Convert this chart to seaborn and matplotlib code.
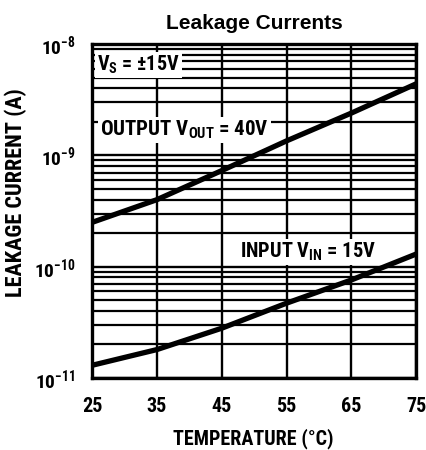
import numpy as np
import pandas as pd
import matplotlib
matplotlib.use('Agg')
import matplotlib.pyplot as plt
import seaborn as sns
from matplotlib.ticker import LogLocator, NullFormatter

# valeurs
temperature = [25, 35, 45, 55, 65, 75]
output_leak = [2.5e-10, 4.0e-10, 7.3e-10, 1.35e-9, 2.4e-9, 4.4e-9]
input_leak = [1.3e-11, 1.8e-11, 2.8e-11, 4.7e-11, 7.6e-11, 1.3e-10]
x_ticks = [25, 35, 45, 55, 65, 75]
y_ticks = [1e-11, 1e-10, 1e-9, 1e-8]

sns.set_style('white')
plt.rcParams['font.family'] = ['Roboto Condensed', 'DejaVu Sans']
plt.rcParams['font.weight'] = 'bold'
plt.rcParams['text.color'] = 'black'
plt.rcParams['axes.labelcolor'] = 'black'
plt.rcParams['xtick.color'] = 'black'
plt.rcParams['ytick.color'] = 'black'
plt.rcParams['mathtext.fontset'] = 'custom'
plt.rcParams['mathtext.rm'] = 'Roboto Condensed:bold'
plt.rcParams['mathtext.bf'] = 'Roboto Condensed:bold'
plt.rcParams['mathtext.default'] = 'rm'

df = pd.DataFrame({
    'temp': temperature * 2,
    'leak': output_leak + input_leak,
    'serie': ['out'] * 6 + ['in'] * 6,
})

fig = plt.figure(figsize=(4.26, 4.5), dpi=100)
ax = fig.add_axes([0.216, 0.16, 0.761, 0.742])

sns.lineplot(data=df, x='temp', y='leak', units='serie', estimator=None,
             color='black', linewidth=3.8, ax=ax, zorder=3)
ax.set_yscale('log')
ax.set_xlim(25, 75)
ax.set_ylim(1e-11, 1e-8)

ax.set_xticks(x_ticks)
ax.set_xticklabels([str(t) for t in x_ticks], fontsize=14.5, fontweight='bold')
ax.set_yticks(y_ticks)
ax.set_yticklabels([r'$10^{-11}$', r'$10^{-10}$', r'$10^{-9}$', r'$10^{-8}$'],
                   fontsize=14)
ax.yaxis.set_minor_locator(LogLocator(base=10, subs=np.arange(2, 10)))
ax.yaxis.set_minor_formatter(NullFormatter())
ax.tick_params(length=0, which='both')
ax.tick_params(axis='x', pad=14)
ax.tick_params(axis='y', pad=12)

ax.grid(True, which='major', axis='x', color='black', linewidth=1.7)
ax.grid(True, which='major', axis='y', color='black', linewidth=1.7)
ax.grid(True, which='minor', axis='y', color='black', linewidth=1.6)
ax.set_axisbelow(True)
for s in ax.spines.values():
    s.set_linewidth(2.4)
    s.set_color('black')

ax.set_xlabel('TEMPERATURE (°C)', fontsize=14.5, fontweight='bold')
ax.xaxis.set_label_coords(0.497, -0.15)
ax.set_ylabel('LEAKAGE CURRENT (A)', fontsize=16, fontweight='bold')
ax.yaxis.set_label_coords(-0.2, 0.554)
ax.set_title('Leakage Currents', fontsize=15, fontweight='bold',
             family='Liberation Sans', pad=11)

box = dict(facecolor='white', edgecolor='none', pad=1.5)
ax.text(25.8, 6.5e-9, r'V$_{S}$ = ±15V', fontsize=14.5, fontweight='bold',
        va='center', ha='left', bbox=box, zorder=4)
ax.text(26.2, 1.7e-9, r'OUTPUT V$_{OUT}$ = 40V', fontsize=15, fontweight='bold',
        va='center', ha='left', bbox=box, zorder=4)
ax.text(47.9, 1.35e-10, r'INPUT V$_{IN}$ = 15V', fontsize=14.7, fontweight='bold',
        va='center', ha='left', bbox=box, zorder=4)

plt.savefig('out.png', dpi=100)
